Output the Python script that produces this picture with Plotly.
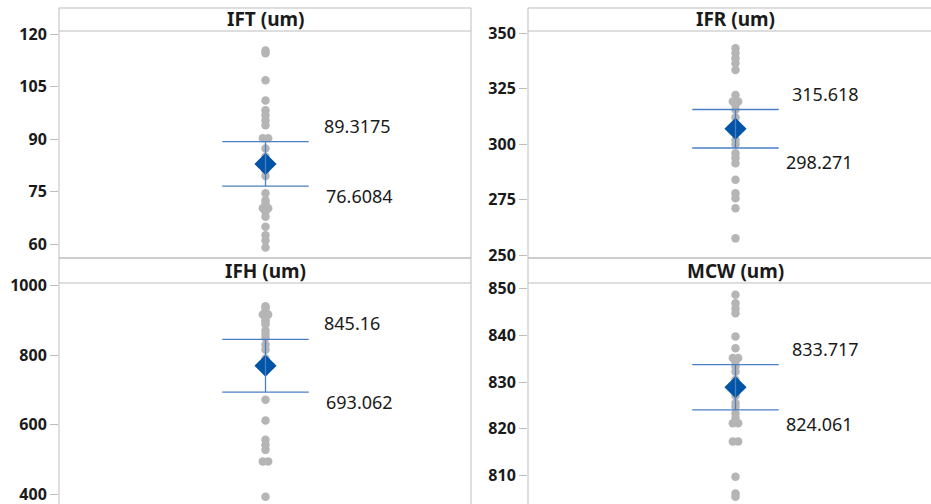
import plotly.graph_objects as go

# Panel titles
titles = ["IFT (um)", "IFR (um)", "IFH (um)", "MCW (um)"]

# Individual measurements per variable
ift = [115.4, 114.6, 106.9, 101.1, 98.3, 96.9, 95.4, 94.0, 90.3, 90.3, 87.4,
       85.0, 81.0, 79.5, 74.6, 72.6, 71.7, 70.3, 70.3, 69.3, 67.9, 65.0,
       62.6, 61.1, 59.1]
ifr = [343.3, 341.1, 338.8, 336.5, 333.5, 322.2, 319.2, 319.2, 317.7, 315.5,
       312.0, 309.0, 305.0, 302.0, 300.0, 295.9, 293.7, 291.4, 283.9, 277.9,
       275.6, 271.1, 257.5]
ifh = [940.3, 935.0, 925.9, 916.3, 916.3, 910.0, 901.9, 895.0, 887.5, 870.0,
       858.7, 849.1, 829.8, 815.4, 790.0, 760.0, 671.2, 611.5, 555.8, 541.4,
       527.0, 493.3, 493.3, 392.3]
mcw = [848.6, 846.8, 845.7, 844.7, 839.7, 837.2, 835.1, 835.1, 834.3, 833.3,
       832.2, 830.5, 828.5, 827.0, 825.5, 824.7, 823.3, 822.3, 821.2, 821.2,
       817.3, 817.3, 809.8, 806.2, 805.5]
series = [ift, ifr, ifh, mcw]

# 95% confidence interval bounds of the mean
ci_low = [76.6084, 298.271, 693.062, 824.061]
ci_high = [89.3175, 315.618, 845.16, 833.717]
ci_labels_low = ["76.6084", "298.271", "693.062", "824.061"]
ci_labels_high = ["89.3175", "315.618", "845.16", "833.717"]

# Axis ticks
tick_vals = [[60, 75, 90, 105, 120], [250, 275, 300, 325, 350],
             [400, 600, 800, 1000], [810, 820, 830, 840, 850]]

W, H = 931, 504
GRID = "#BDBDBD"
DOT = "#B5B5B5"
DIAMOND = "#0054A6"
CI_LINE = "#4A7FC6"
TEXT = "#1a1a1a"
FONT = "Noto Sans"


def fx(p):
    """pixel x -> paper fraction"""
    return p / W


def fy(p):
    """pixel y (from top) -> paper fraction"""
    return 1 - p / H


# value scale per panel: (value, pixel y) at two ticks
calib = [((120, 34.3), (60, 244.3)), ((350, 33.3), (250, 255.0)),
         ((1000, 285.5), (400, 494.0)), ((850, 288.3), (810, 475.7))]

# panel geometry in pixels
cols = [(59, 471), (528, 931)]
rows = [(8, 31, 258), (258, 283, 504)]
centers = [265.5, 735.5]
px_per_unit_x = 206.0
half_w = 0.21
dodge = 0.013
label_shift = [((13, 16), (15, -10)), ((11, 16), (5, -14))]

fig = go.Figure()
shapes = []
annotations = []

for i in range(4):
    r, c = divmod(i, 2)
    left, right = cols[c]
    htop, ptop, bottom = rows[r]
    ax = "" if i == 0 else str(i + 1)
    xa, ya = "x" + ax, "y" + ax

    x_range = [(left - centers[c]) / px_per_unit_x, (right - centers[c]) / px_per_unit_x]
    (v1, p1), (v2, p2) = calib[i]
    k = (p2 - p1) / (v1 - v2)
    y_range = [v2 - (bottom - p2) / k, v1 + (p1 - ptop) / k]

    vals = series[i]
    # side-by-side placement for repeated values
    seen = {}
    xs = []
    for v in vals:
        if vals.count(v) > 1:
            n = seen.get(v, 0)
            seen[v] = n + 1
            xs.append(-dodge if n == 0 else dodge)
        else:
            xs.append(0.0)

    fig.add_trace(go.Scatter(x=xs, y=vals, mode="markers", xaxis=xa, yaxis=ya,
                             marker=dict(color=DOT, size=8.5, line=dict(width=0)),
                             hoverinfo="y", showlegend=False))
    mean = (ci_low[i] + ci_high[i]) / 2
    fig.add_trace(go.Scatter(x=[0], y=[mean], mode="markers", xaxis=xa, yaxis=ya,
                             marker=dict(symbol="diamond", color=DIAMOND, size=17,
                                         line=dict(width=0)),
                             showlegend=False))
    fig.add_trace(go.Scatter(
        x=[-half_w, half_w, None, -half_w, half_w, None, 0, 0],
        y=[ci_high[i], ci_high[i], None, ci_low[i], ci_low[i], None, ci_low[i], ci_high[i]],
        mode="lines", xaxis=xa, yaxis=ya, line=dict(color=CI_LINE, width=1.3),
        hoverinfo="skip", showlegend=False))

    fig.layout["xaxis" + ax] = dict(domain=[fx(left), fx(right)], range=x_range,
                                    visible=False, anchor=ya, fixedrange=True)
    fig.layout["yaxis" + ax] = dict(domain=[fy(bottom), fy(ptop)], range=y_range,
                                    anchor=xa, tickvals=tick_vals[i], ticks="outside",
                                    ticklen=8, tickcolor=GRID, tickwidth=1,
                                    ticklabeloverflow="allow",
                                    showgrid=False, zeroline=False, showline=False,
                                    tickfont=dict(family=FONT, size=16, color=TEXT,
                                                  weight="bold"))

    # panel frame and header band
    x_end = right + (20 if c == 1 else 0)
    y_end = bottom + (20 if r == 1 else 0)
    shapes.append(dict(type="rect", xref="paper", yref="paper",
                       x0=fx(left), x1=fx(x_end), y0=fy(y_end), y1=fy(htop),
                       line=dict(color=GRID, width=1), fillcolor="rgba(0,0,0,0)", layer="below"))
    shapes.append(dict(type="line", xref="paper", yref="paper",
                       x0=fx(left), x1=fx(x_end), y0=fy(ptop), y1=fy(ptop),
                       line=dict(color=GRID, width=1)))
    annotations.append(dict(text=titles[i], xref="paper", yref="paper",
                            x=fx(centers[c]), y=fy((htop + ptop) / 2),
                            xanchor="center", yanchor="middle", showarrow=False,
                            font=dict(family=FONT, size=19, color=TEXT, weight="bold")))

    (ux, uy), (lx, ly) = label_shift[c]
    annotations.append(dict(text=ci_labels_high[i], xref=xa, yref=ya, x=half_w, y=ci_high[i],
                            xanchor="left", yanchor="middle", xshift=ux, yshift=uy,
                            showarrow=False, font=dict(family=FONT, size=18, color=TEXT)))
    annotations.append(dict(text=ci_labels_low[i], xref=xa, yref=ya, x=half_w, y=ci_low[i],
                            xanchor="left", yanchor="middle", xshift=lx, yshift=ly,
                            showarrow=False, font=dict(family=FONT, size=18, color=TEXT)))

fig.update_layout(width=W, height=H,
                  margin=dict(l=0, r=0, t=0, b=0, pad=0, autoexpand=False),
                  paper_bgcolor="white", plot_bgcolor="white",
                  shapes=shapes, annotations=annotations, showlegend=False)

fig.write_html("out.html")
